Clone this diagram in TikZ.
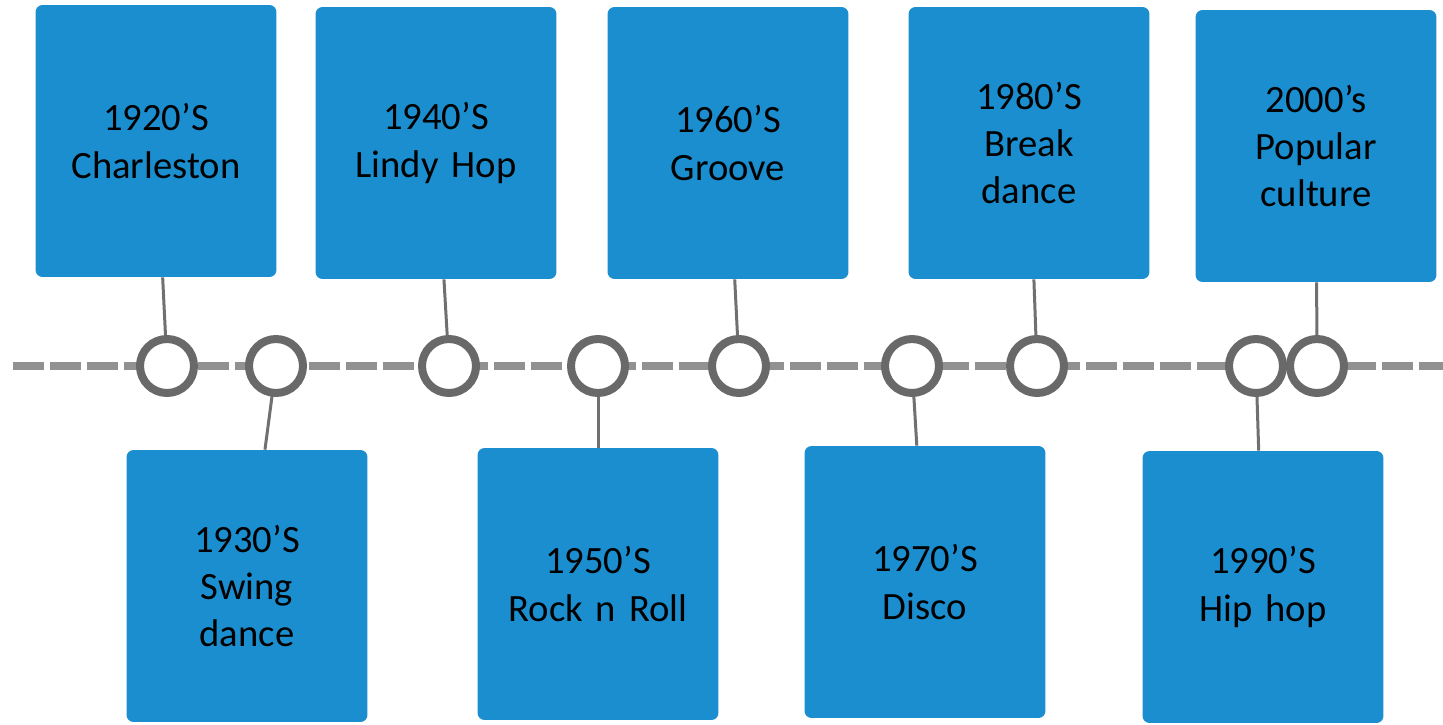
\documentclass[tikz,border=0pt]{standalone}
\usepackage{fontspec}
\setmainfont{Carlito}
\usepackage{tikz}
\usetikzlibrary{positioning,calc}
\definecolor{boxblue}{RGB}{27,142,208}
\definecolor{ringgray}{RGB}{105,105,105}
\definecolor{dashgray}{RGB}{145,145,145}
\definecolor{stemgray}{RGB}{112,112,112}
\tikzset{
  yearbox/.style={fill=boxblue, rounded corners=4pt, inner sep=0pt,
                  minimum width=4.82cm, minimum height=5.44cm,
                  text width=4.6cm, align=center,
                  font=\fontsize{22}{27}\selectfont},
  dot/.style={circle, draw=ringgray, line width=0.16cm, fill=white,
              minimum size=1.08cm, inner sep=0pt},
  tline/.style={dashgray, line width=0.16cm, dash pattern=on 0.62cm off 0.12cm},
  stem/.style={stemgray, line width=0.06cm},
}

\begin{document}
\begin{tikzpicture}[x=0.02cm, y=-0.02cm]
  \useasboundingbox (0,0) rectangle (1443,724);
  % timeline
  \coordinate (tlstart) at (13,366);
  \coordinate (tlend) at (1443,366);
  \draw[tline] (tlstart) -- (tlend);
  % boxes above
  \node[yearbox] (b1920) at (156,141) {1920’S\\Charleston};
  \node[yearbox] (b1940) at (436,143) {1940’S\\Lindy Hop};
  \node[yearbox] (b1960) at (728,143) {1960’S\\Groove};
  \node[yearbox] (b1980) at (1029,143) {1980’S\\Break\\dance};
  \node[yearbox] (b2000) at (1316,146) {2000’s\\Popular\\culture};
  % boxes below
  \node[yearbox] (b1930) at (247,586) {1930’S\\Swing\\dance};
  \node[yearbox] (b1950) at (598,584) {1950’S\\Rock n Roll};
  \node[yearbox] (b1970) at (925,582) {1970’S\\Disco};
  \node[yearbox] (b1990) at (1263,587) {1990’S\\Hip hop};
  % stems
  \draw[stem] (167,366) -- (b1920);
  \draw[stem] (276,366) -- (b1930);
  \draw[stem] (449,366) -- (b1940);
  \draw[stem] (598,366) -- (b1950);
  \draw[stem] (739,366) -- (b1960);
  \draw[stem] (912,366) -- (b1970);
  \draw[stem] (1037,366) -- (b1980);
  \draw[stem] (1256,366) -- (b1990);
  \draw[stem] (1317,366) -- (b2000);
  % dots on the line
  \node[dot] (c1920) at (167,366) {};
  \node[dot] (c1930) at (276,366) {};
  \node[dot] (c1940) at (449,366) {};
  \node[dot] (c1950) at (598,366) {};
  \node[dot] (c1960) at (739,366) {};
  \node[dot] (c1970) at (912,366) {};
  \node[dot] (c1980) at (1037,366) {};
  \node[dot] (c1990) at (1256,366) {};
  \node[dot] (c2000) at (1317,366) {};
\end{tikzpicture}
\end{document}
